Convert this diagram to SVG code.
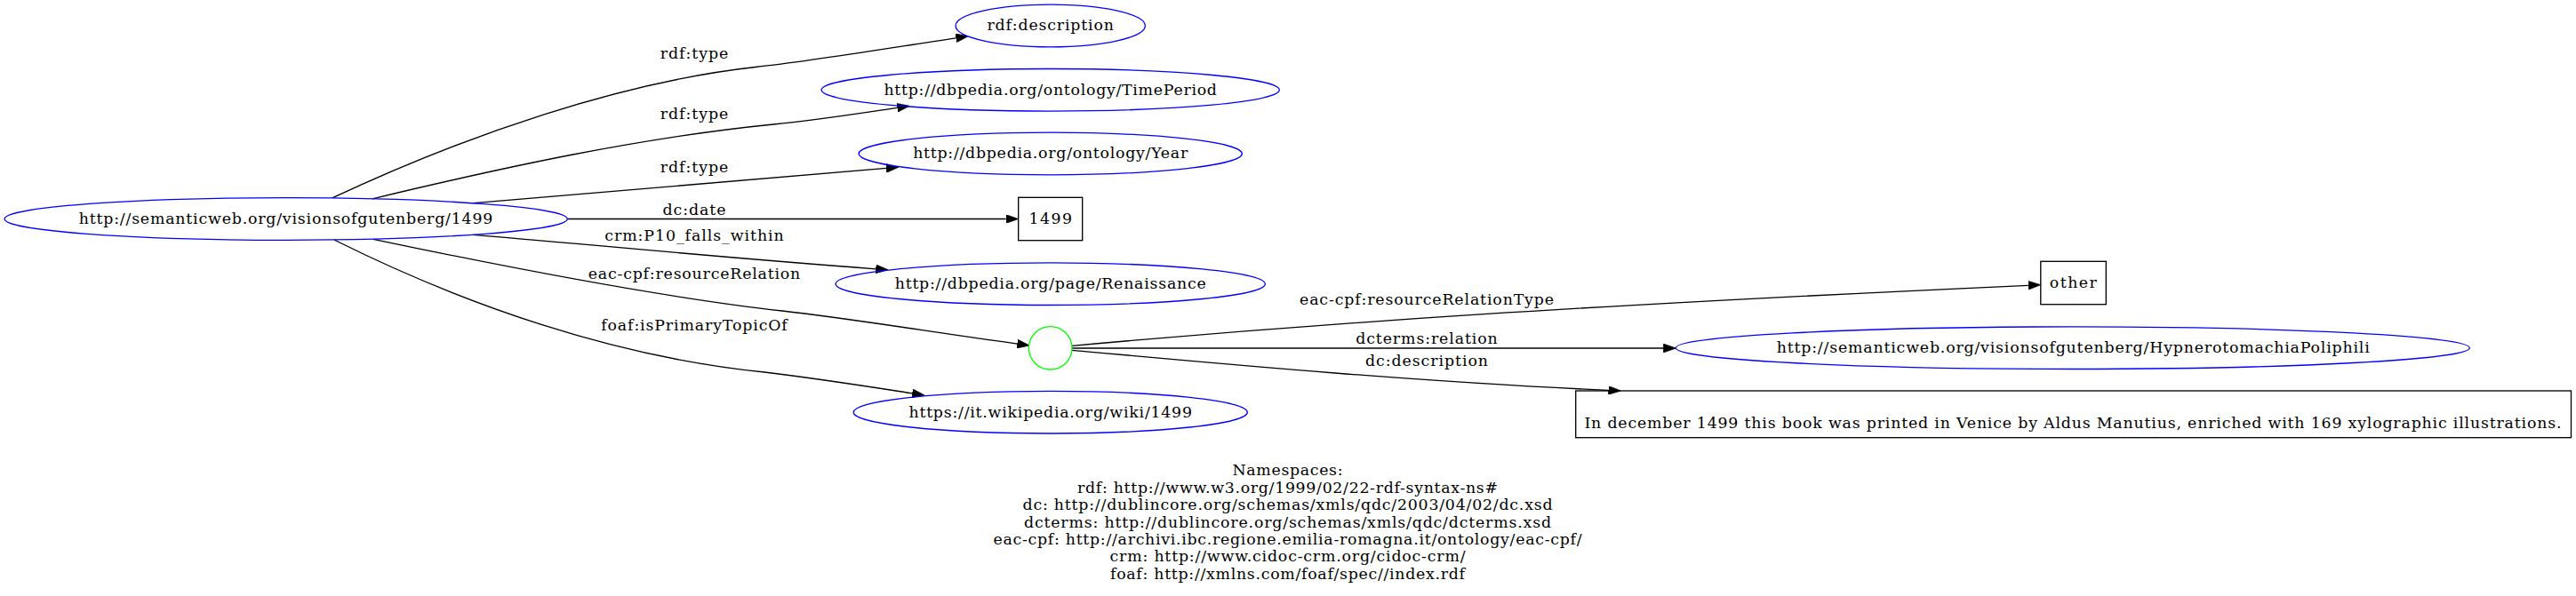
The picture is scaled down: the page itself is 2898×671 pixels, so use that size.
<svg xmlns="http://www.w3.org/2000/svg" width="2898" height="671" viewBox="0 0 2898 671">
<style>
text{font-family:"DejaVu Serif","Liberation Serif",serif;font-size:17.33px;fill:#000}
.n{text-anchor:middle}
.uri{fill:none;stroke:#0000ff;stroke-width:1.33}
.bn{fill:none;stroke:#00ff00;stroke-width:1.33}
.lit{fill:none;stroke:#000;stroke-width:1.33}
.e{fill:none;stroke:#000;stroke-width:1.33;marker-end:url(#arr)}
</style>
<defs>
<marker id="arr" viewBox="0 0 10 7" refX="0" refY="3.5" markerWidth="14" markerHeight="9.8" markerUnits="userSpaceOnUse" orient="auto">
<path d="M0,0 L10,3.5 L0,7 z" fill="#000" stroke="#000" stroke-width="0.5"/>
</marker>
</defs>
<rect width="2898" height="671" fill="#fff"/>
<g id="connectors">
<path class="e" d="M374.3,222.7 C524.3,152.2 700,92 850,75.5 C920,67.8 1000,54 1075.5,42.8"/>
<path class="e" d="M419,223.8 C569,187.8 720,155 870,140 C920,135 960,128.5 1009.4,121.3"/>
<path class="e" d="M532.7,228.7 C650,219 800,205 997,189.4"/>
<path class="e" d="M638.3,246.5 L1131.7,246.5"/>
<path class="e" d="M532.7,264.3 C650,274 800,289 985.3,302.8"/>
<path class="e" d="M420,269.3 C570,300.8 750,335.7 880,350 C960,359 1050,374.2 1144.4,387.1"/>
<path class="e" d="M376,270 C520,342 690,402 860,419 C920,426.2 980,435.7 1026.2,442.8"/>
<path class="e" d="M1206,389.3 C1506,362.3 1782.5,344 2281.8,321.3"/>
<path class="e" d="M1206,392 L1871.4,392"/>
<path class="e" d="M1206,394.3 C1400,412 1600,430 1809.5,439.4"/>
<text class="n" x="781" y="66" textLength="76.5">rdf:type</text>
<text class="n" x="781" y="134" textLength="76.5">rdf:type</text>
<text class="n" x="781" y="194" textLength="76.5">rdf:type</text>
<text class="n" x="781" y="242" textLength="71">dc:date</text>
<text class="n" x="781" y="270.7" textLength="201.5">crm:P10_falls_within</text>
<text class="n" x="781" y="314" textLength="238.5">eac-cpf:resourceRelation</text>
<text class="n" x="781" y="372" textLength="209.5">foaf:isPrimaryTopicOf</text>
<text class="n" x="1605" y="343.3" textLength="286">eac-cpf:resourceRelationType</text>
<text class="n" x="1605" y="386.7" textLength="159.5">dcterms:relation</text>
<text class="n" x="1605" y="411.7" textLength="138">dc:description</text>
</g>
<g id="node-main">
<ellipse class="uri" cx="321.7" cy="246.5" rx="316.6" ry="23.8"/>
<text class="n" x="321.5" y="251.8" textLength="465.5">http://semanticweb.org/visionsofgutenberg/1499</text>
</g>
<g id="node-rdfdescription">
<ellipse class="uri" cx="1181.7" cy="29" rx="106.6" ry="23.8"/>
<text class="n" x="1181.7" y="34.3" textLength="142.5">rdf:description</text>
</g>
<g id="node-timeperiod">
<ellipse class="uri" cx="1181.7" cy="101.3" rx="257.6" ry="23.8"/>
<text class="n" x="1181.7" y="106.6" textLength="374.5">http://dbpedia.org/ontology/TimePeriod</text>
</g>
<g id="node-year">
<ellipse class="uri" cx="1181.7" cy="173" rx="215.6" ry="23.8"/>
<text class="n" x="1181.7" y="178.3" textLength="309">http://dbpedia.org/ontology/Year</text>
</g>
<g id="node-1499">
<rect class="lit" x="1145.7" y="222.3" width="72" height="48.4"/>
<text class="n" x="1181.7" y="251.8" textLength="48.5">1499</text>
</g>
<g id="node-renaissance">
<ellipse class="uri" cx="1181.7" cy="319.7" rx="241.6" ry="23.8"/>
<text class="n" x="1181.7" y="325" textLength="350">http://dbpedia.org/page/Renaissance</text>
</g>
<g id="node-blank">
<ellipse class="bn" cx="1181.7" cy="391.8" rx="24.3" ry="24.2"/>
</g>
<g id="node-wikipedia">
<ellipse class="uri" cx="1181.7" cy="464.2" rx="221.6" ry="23.8"/>
<text class="n" x="1181.7" y="469.5" textLength="318.5">https://it.wikipedia.org/wiki/1499</text>
</g>
<g id="node-other">
<rect class="lit" x="2295.8" y="294.3" width="73.5" height="48.4"/>
<text class="n" x="2332.3" y="323.8" textLength="53">other</text>
</g>
<g id="node-hypnerotomachia">
<ellipse class="uri" cx="2331.8" cy="391.7" rx="446.5" ry="23.8"/>
<text class="n" x="2332.2" y="397" textLength="667">http://semanticweb.org/visionsofgutenberg/HypnerotomachiaPoliphili</text>
</g>
<g id="node-description">
<rect class="lit" x="1772.7" y="440" width="1119.8" height="52.7"/>
<text class="n" x="2331.9" y="481.7" textLength="1099">In december 1499 this book was printed in Venice by Aldus Manutius, enriched with 169 xylographic illustrations.</text>
</g>
<g id="namespaces">
<text class="n" x="1448.5" y="535.3" textLength="124">Namespaces:</text>
<text class="n" x="1448.5" y="554.7" textLength="473">rdf: http://www.w3.org/1999/02/22-rdf-syntax-ns#</text>
<text class="n" x="1448.5" y="574.1" textLength="596">dc: http://dublincore.org/schemas/xmls/qdc/2003/04/02/dc.xsd</text>
<text class="n" x="1448.5" y="593.5" textLength="593">dcterms: http://dublincore.org/schemas/xmls/qdc/dcterms.xsd</text>
<text class="n" x="1448.5" y="612.9" textLength="662">eac-cpf: http://archivi.ibc.regione.emilia-romagna.it/ontology/eac-cpf/</text>
<text class="n" x="1448.5" y="632.3" textLength="400">crm: http://www.cidoc-crm.org/cidoc-crm/</text>
<text class="n" x="1448.5" y="651.7" textLength="399">foaf: http://xmlns.com/foaf/spec//index.rdf</text>
</g>
</svg>
